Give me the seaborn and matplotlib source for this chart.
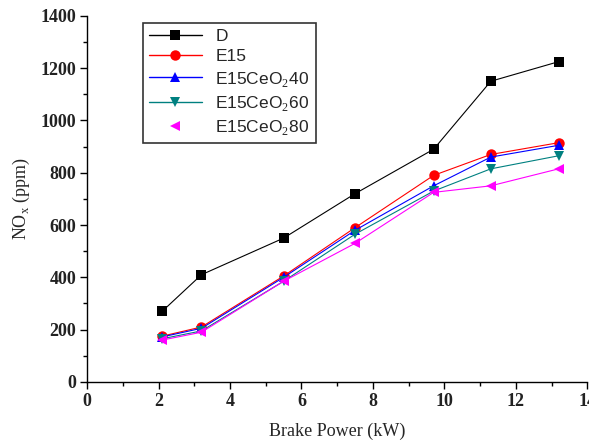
import matplotlib
matplotlib.use("Agg")
import matplotlib.pyplot as plt
import seaborn as sns
import pandas as pd
from matplotlib.lines import Line2D

power = [2.1, 3.2, 5.5, 7.5, 9.7, 11.3, 13.2]
nox_D = [270, 410, 550, 720, 890, 1150, 1225]
nox_E15 = [175, 210, 405, 590, 790, 870, 915]
nox_Ce40 = [172, 205, 400, 580, 750, 860, 905]
nox_Ce60 = [165, 195, 385, 565, 730, 815, 865]
nox_Ce80 = [160, 190, 385, 530, 725, 750, 815]
labels = ["D", "E15", "E15CeO$_2$40", "E15CeO$_2$60", "E15CeO$_2$80"]
colors = ["black", "red", "blue", "#008080", "magenta"]
markers = ["s", "o", "^", "v", "<"]

series = [nox_D, nox_E15, nox_Ce40, nox_Ce60, nox_Ce80]
rows = []
for lab, vals in zip(labels, series):
    for x, y in zip(power, vals):
        rows.append({"power": x, "nox": y, "fuel": lab})
df = pd.DataFrame(rows)

sns.set_style("white")
plt.rcParams["mathtext.fontset"] = "custom"
plt.rcParams["mathtext.rm"] = "Liberation Serif"
fig = plt.figure(figsize=(5.89, 4.42), dpi=100)
ax = fig.add_axes([0.148, 0.136, 0.849, 0.828])

sns.lineplot(data=df, x="power", y="nox", hue="fuel", style="fuel",
             palette=dict(zip(labels, colors)), markers=dict(zip(labels, markers)),
             dashes=False, linewidth=0.8, markersize=7.5, markeredgewidth=0,
             ax=ax, legend=False)

ax.set_xlim(0, 14)
ax.set_ylim(0, 1400)
ax.set_xticks(range(0, 15, 2))
ax.set_xticks(range(1, 14, 2), minor=True)
ax.set_yticks(range(0, 1401, 200))
ax.set_yticks(range(100, 1400, 200), minor=True)
for s in ["top", "right"]:
    ax.spines[s].set_visible(False)
for s in ["left", "bottom"]:
    ax.spines[s].set_linewidth(1.0)
    ax.spines[s].set_color("black")
ax.tick_params(which="major", direction="out", length=5, width=1, color="black",
               labelsize=13, bottom=True, left=True, pad=3)
ax.tick_params(which="minor", direction="out", length=3, width=1, color="black",
               bottom=True, left=True)
for t in ax.get_xticklabels() + ax.get_yticklabels():
    t.set_fontfamily("Liberation Serif")
    t.set_fontweight("bold")
    t.set_color("#222222")

ax.set_xlabel("Brake Power (kW)", fontfamily="Liberation Serif", fontsize=13, labelpad=9)
ax.set_ylabel("NO$_\\mathrm{x}$ (ppm)", fontfamily="Liberation Serif", fontsize=13, labelpad=6)

handles = []
for lab, c, m in zip(labels, colors, markers):
    ls = "none" if lab == labels[-1] else "-"
    handles.append(Line2D([0], [0], color=c, marker=m, linestyle=ls, linewidth=1,
                          markersize=7.5, markeredgewidth=0))
leg = ax.legend(handles, labels, loc="upper left", bbox_to_anchor=(0.095, 1.005),
                frameon=True, fancybox=False, edgecolor="black",
                prop={"family": "Liberation Sans", "size": 12.5},
                handlelength=3, borderpad=0.35, labelspacing=0.3, handletextpad=0.8)
leg.get_frame().set_linewidth(1.2)

fig.savefig("out.png", dpi=100)
